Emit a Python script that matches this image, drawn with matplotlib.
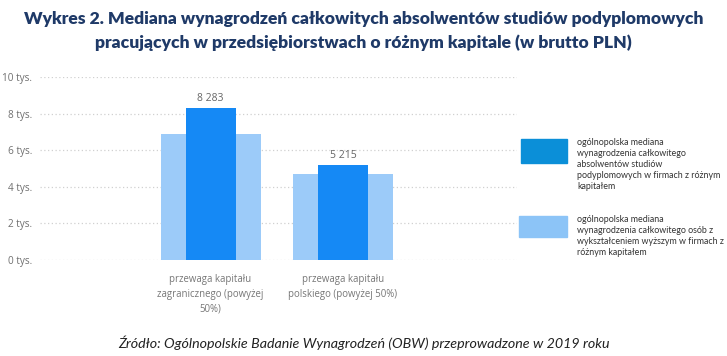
import matplotlib
matplotlib.use("Agg")
import matplotlib.pyplot as plt
from matplotlib.patches import Rectangle

categories = ["przewaga kapitału\nzagranicznego (powyżej\n50%)",
              "przewaga kapitału\npolskiego (powyżej 50%)"]
postgrad_median = [8283, 5215]
higher_edu_median = [6900, 4700]
yticks = [0, 2000, 4000, 6000, 8000, 10000]
ytick_labels = ["0 tys.", "2 tys.", "4 tys.", "6 tys.", "8 tys.", "10 tys."]
value_labels = ["8 283", "5 215"]
legend_labels = [
    "ogólnopolska mediana\nwynagrodzenia całkowitego\nabsolwentów studiów\npodyplomowych w firmach z różnym\nkapitałem",
    "ogólnopolska mediana\nwynagrodzenia całkowitego osób z\nwykształceniem wyższym w firmach z\nróżnym kapitałem",
]
title = ("Wykres 2. Mediana wynagrodzeń całkowitych absolwentów studiów podyplomowych\n"
         "pracujących w przedsiębiorstwach o różnym kapitale (w brutto PLN)")
source = "Źródło: Ogólnopolskie Badanie Wynagrodzeń (OBW) przeprowadzone w 2019 roku"

W, H = 727, 356
fig = plt.figure(figsize=(W / 100, H / 100), dpi=100)
fig.patch.set_facecolor("white")

ax = fig.add_axes([40 / W, 1 - 260 / H, 477 / W, 183 / H])
x = list(range(len(categories)))
ax.bar(x, higher_edu_median, width=0.755, color="#9ccbf9", zorder=2)
ax.bar(x, postgrad_median, width=0.377, color="#1589f5", zorder=3)
for xi, v, lab in zip(x, postgrad_median, value_labels):
    ax.text(xi, v + 220, lab, ha="center", va="bottom", fontsize=7.5,
            color="#666666", family="Open Sans")

ax.set_xlim(-1.287, 2.313)
ax.set_ylim(0, 10000)
ax.set_yticks(yticks)
ax.set_yticklabels(ytick_labels, family="Open Sans", fontsize=7.2, color="#707070")
ax.set_xticks(x)
ax.set_xticklabels(categories, family="Open Sans", fontsize=6.9, color="#777777",
                   linespacing=1.5)
ax.tick_params(axis="both", length=0)
ax.tick_params(axis="x", pad=10)
ax.tick_params(axis="y", pad=5.5)
for s in ax.spines.values():
    s.set_visible(False)
ax.grid(axis="y", color="#d0d0d0", linestyle=(0, (1, 2)), linewidth=0.9, zorder=0)
ax.set_axisbelow(True)

# legend
legend_colors = ["#0b8fd8", "#8cc4f7"]
leg_rects = [(521, 139, 46, 24), (519, 216, 48, 21)]
leg_text_y = [138, 215]
for col, (lx, ly, lw, lh), ty, lab in zip(legend_colors, leg_rects, leg_text_y, legend_labels):
    fig.patches.append(Rectangle((lx / W, 1 - (ly + lh) / H), lw / W, lh / H,
                                 transform=fig.transFigure, color=col))
    fig.text(577 / W, 1 - ty / H, lab, ha="left", va="top", fontsize=6.4,
             color="#333333", family="Lato", linespacing=1.3)

fig.text(0.5, 1 - 31 / H, title, ha="center", va="center", fontsize=12.6,
         fontweight="heavy", color="#1f3a68", family="Lato", linespacing=1.6)
fig.text(0.5, 1 - 343 / H, source, ha="center", va="center", fontsize=10.3,
         style="italic", color="#222222", family="Lato")

fig.savefig("out.png", dpi=100)
